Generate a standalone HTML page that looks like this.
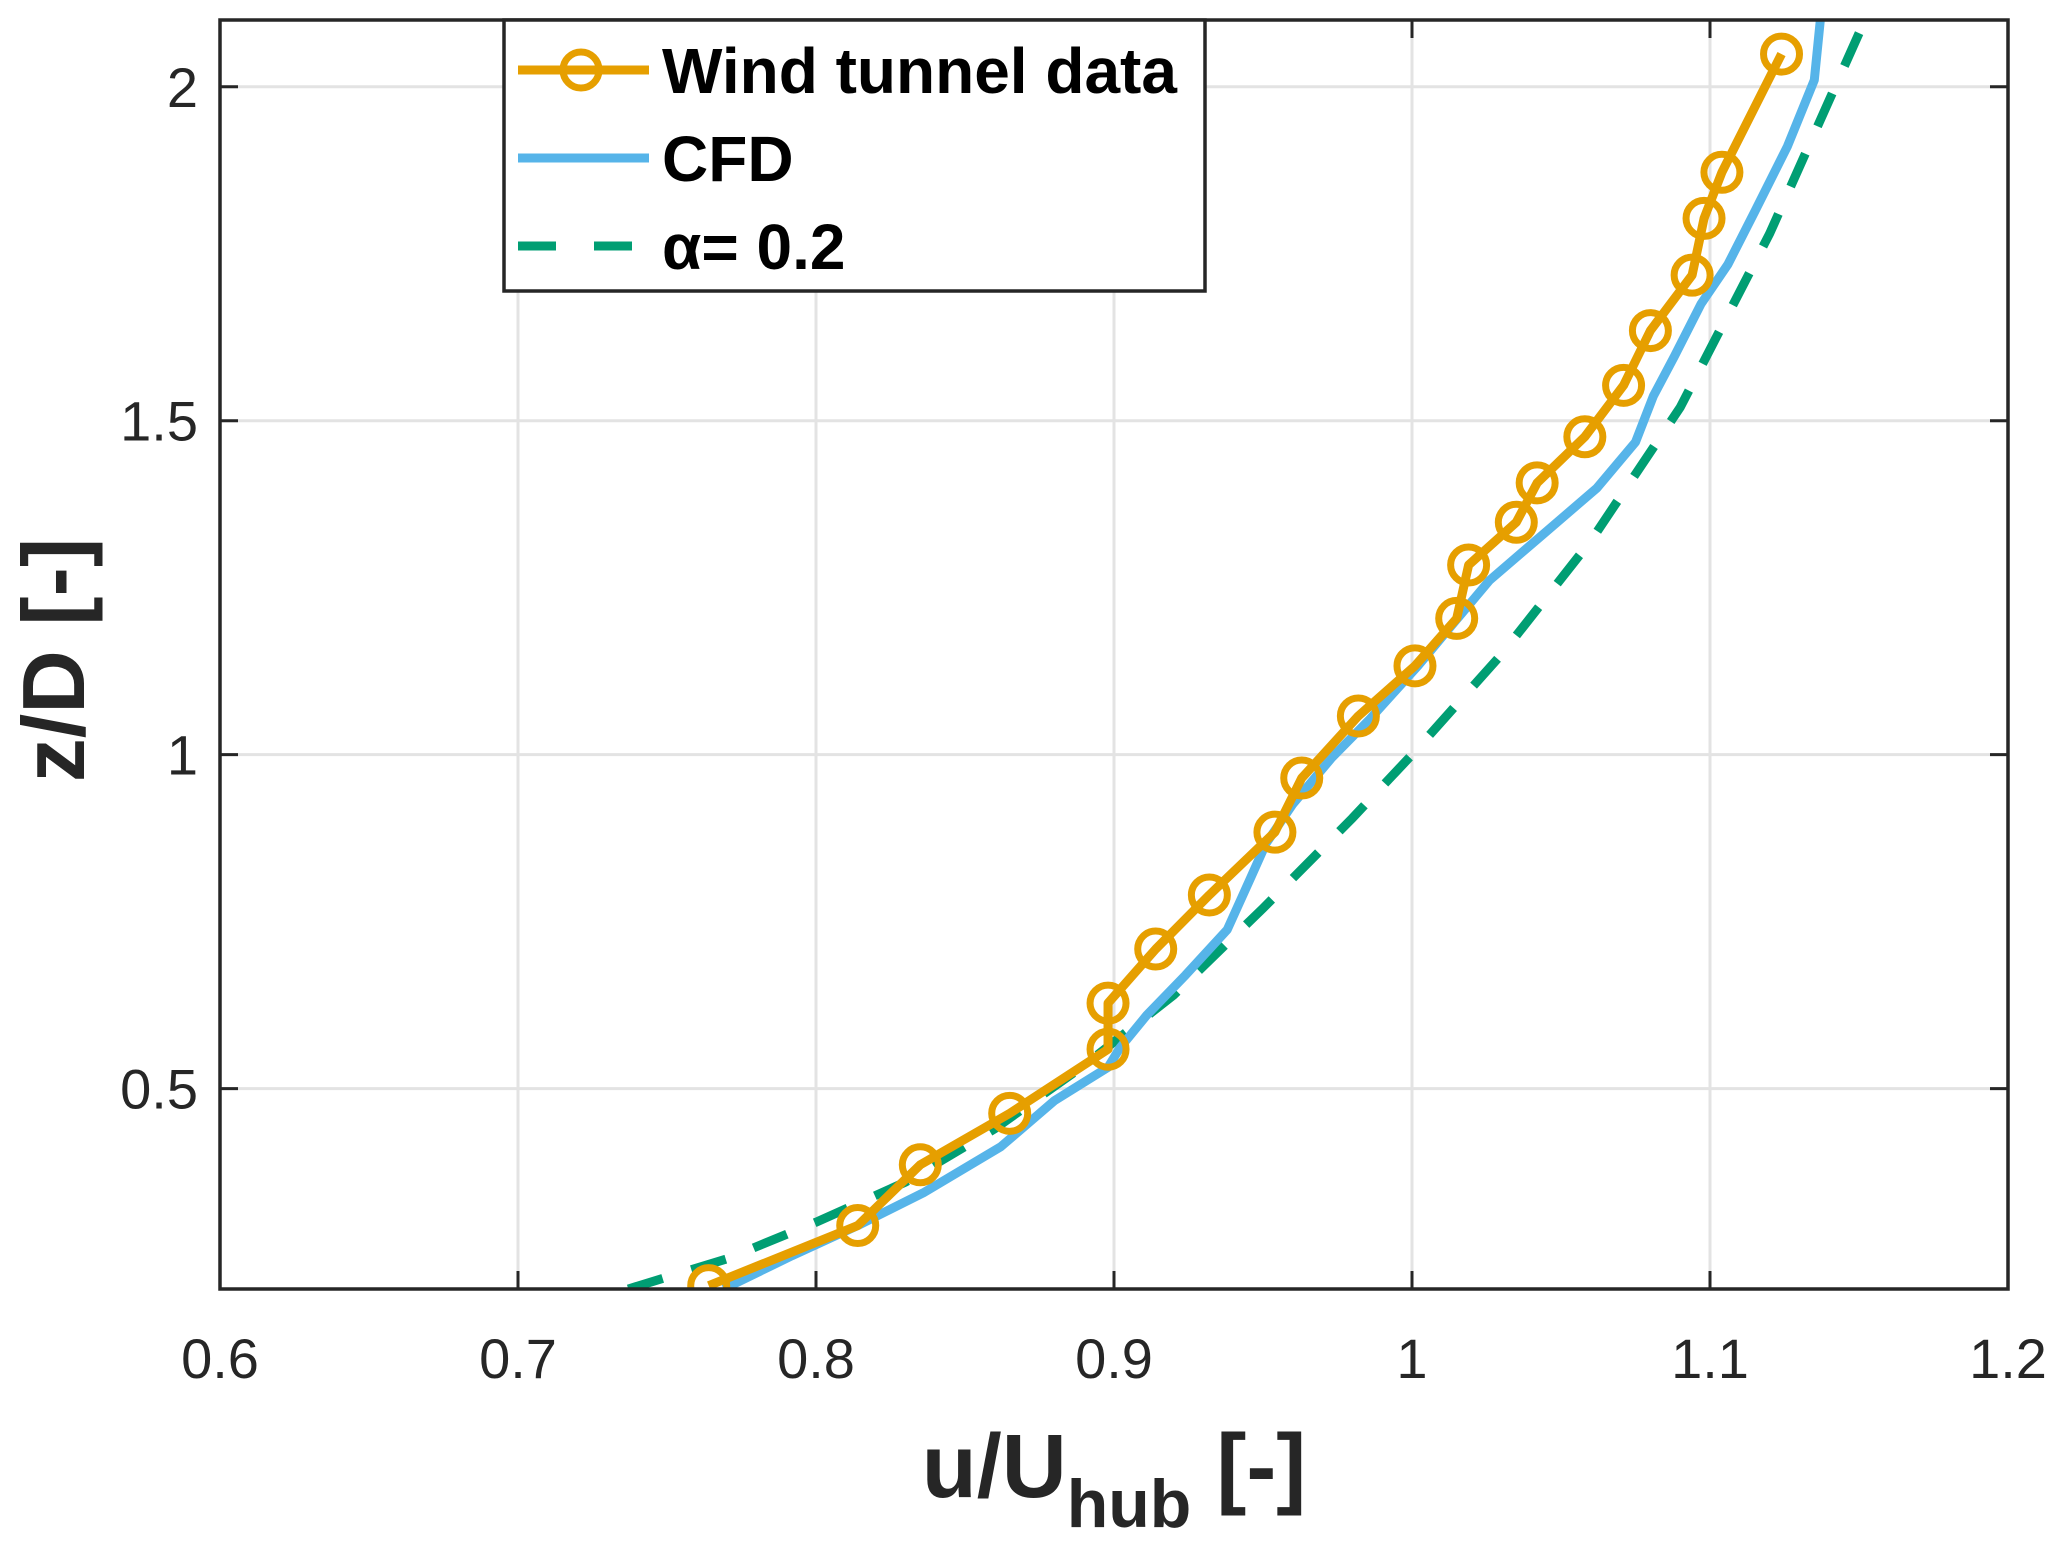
<!DOCTYPE html>
<html><head><meta charset="utf-8"><style>body{margin:0;background:#fff}svg{display:block}</style></head>
<body>
<svg id="chart" width="2067" height="1546" xmlns="http://www.w3.org/2000/svg" font-family="'Liberation Sans', sans-serif">
<rect width="2067" height="1546" fill="#fff"/>
<g id="grid"></g>
<g id="series"></g>
<g id="axes"></g>
<text x="1114" y="1497" text-anchor="middle" font-size="90" font-weight="bold" fill="#262626">u/U<tspan font-size="68" dy="30">hub</tspan><tspan dy="-30"> [-]</tspan></text>
<text transform="translate(84,660) rotate(-90)" text-anchor="middle" font-size="88" font-weight="bold" fill="#262626">z/D [-]</text>
<g>
<rect x="504" y="20" width="701" height="271" fill="#fff" stroke="#262626" stroke-width="3.5"/>
<line x1="518" y1="70" x2="649" y2="70" stroke="#E69F00" stroke-width="9"/>
<circle cx="581" cy="70" r="18" fill="none" stroke="#E69F00" stroke-width="7"/>
<text x="662" y="93" font-size="64" font-weight="bold">Wind tunnel data</text>
<line x1="518" y1="158" x2="649" y2="158" stroke="#56B4E9" stroke-width="9"/>
<text x="662" y="181" font-size="64" font-weight="bold">CFD</text>
<line x1="518" y1="246" x2="649" y2="246" stroke="#009E73" stroke-width="9" stroke-dasharray="38,38"/>
<text x="662" y="269" font-size="64" font-weight="bold">α= 0.2</text>
</g>
</svg>
<script>
const xTicks=[0.6,0.7,0.8,0.9,1,1.1,1.2];
const xTickLabels=["0.6","0.7","0.8","0.9","1","1.1","1.2"];
const yTicks=[0.5,1,1.5,2];
const yTickLabels=["0.5","1","1.5","2"];
const wtU=[0.764,0.814,0.835,0.865,0.898,0.898,0.914,0.932,0.954,0.963,0.982,1.001,1.015,1.019,1.035,1.042,1.058,1.071,1.080,1.094,1.098,1.104,1.124];
const wtZ=[0.205,0.295,0.386,0.463,0.559,0.628,0.709,0.790,0.884,0.965,1.058,1.133,1.204,1.284,1.348,1.407,1.476,1.553,1.635,1.718,1.803,1.872,2.049];
const cfdU=[0.769,0.792,0.814,0.836,0.862,0.880,0.898,0.902,0.911,0.924,0.938,0.946,0.951,0.960,0.973,0.986,1.002,1.013,1.026,1.044,1.062,1.075,1.081,1.088,1.097,1.106,1.115,1.126,1.135,1.137];
const cfdZ=[0.200,0.250,0.295,0.344,0.413,0.482,0.532,0.561,0.610,0.670,0.738,0.817,0.867,0.926,0.995,1.054,1.133,1.192,1.261,1.330,1.399,1.468,1.537,1.596,1.675,1.734,1.813,1.911,2.010,2.099];
const plU=[0.737,0.770,0.800,0.830,0.860,0.890,0.920,0.950,0.980,1.000,1.030,1.060,1.090,1.120,1.152];
const plZ=[0.200,0.245,0.300,0.360,0.440,0.535,0.640,0.770,0.905,1.000,1.150,1.320,1.520,1.780,2.100];
const X0=220,X1=2008,Y0=1289,Y1=20,XMIN=0.6,XMAX=1.2,YMIN=0.2,YMAX=2.1;
const sx=v=>X0+(v-XMIN)/(XMAX-XMIN)*(X1-X0);
const sy=v=>Y0-(v-YMIN)/(YMAX-YMIN)*(Y0-Y1);
const NS="http://www.w3.org/2000/svg";
function mk(tag,attrs,parent){const e=document.createElementNS(NS,tag);for(const k in attrs)e.setAttribute(k,attrs[k]);parent.appendChild(e);return e;}
const grid=document.getElementById('grid'),axes=document.getElementById('axes'),ser=document.getElementById('series');
xTicks.forEach((t,i)=>{
 const g=mk('line',{x1:sx(t),x2:sx(t),y1:Y1,y2:Y0,stroke:'#e3e3e3','stroke-width':3},grid);
 
 
 const tk=mk('line',{x1:sx(t),x2:sx(t),y1:Y0,y2:Y0-18,stroke:'#262626','stroke-width':3},axes);
 
 
 const tk2=mk('line',{x1:sx(t),x2:sx(t),y1:Y1,y2:Y1+18,stroke:'#262626','stroke-width':3},axes);
 
 
 const tx=mk('text',{x:sx(t),y:1378,'text-anchor':'middle','font-size':56,fill:'#262626'},axes);
 tx.textContent=xTickLabels[i];
 
 
});
yTicks.forEach((t,i)=>{
 const g=mk('line',{x1:X0,x2:X1,y1:sy(t),y2:sy(t),stroke:'#e3e3e3','stroke-width':3},grid);
 
 
 const tk=mk('line',{x1:X0,x2:X0+18,y1:sy(t),y2:sy(t),stroke:'#262626','stroke-width':3},axes);
 
 
 const tk2=mk('line',{x1:X1,x2:X1-18,y1:sy(t),y2:sy(t),stroke:'#262626','stroke-width':3},axes);
 
 
 const tx=mk('text',{x:198,y:sy(t)+20,'text-anchor':'end','font-size':56,fill:'#262626'},axes);
 tx.textContent=yTickLabels[i];
 
 
});
const frame=mk('rect',{x:X0,y:Y1,width:X1-X0,height:Y0-Y1,fill:'none',stroke:'#262626','stroke-width':3.5},axes);


const cp=mk('clipPath',{id:'clip'},ser);mk('rect',{x:X0,y:Y1,width:X1-X0,height:Y0-Y1},cp);
const pl=mk('polyline',{points:plU.map((u,i)=>sx(u)+','+sy(plZ[i])).join(' '),fill:'none',stroke:'#009E73','stroke-width':9,'stroke-dasharray':'36,30'},ser);


const cfd=mk('polyline',{points:cfdU.map((u,i)=>sx(u)+','+sy(cfdZ[i])).join(' '),fill:'none',stroke:'#56B4E9','stroke-width':9,'stroke-linejoin':'round'},ser);


const wt=mk('polyline',{points:wtU.map((u,i)=>sx(u)+','+sy(wtZ[i])).join(' '),fill:'none',stroke:'#E69F00','stroke-width':9,'stroke-linejoin':'round'},ser);


wtU.forEach((u,i)=>{
 const c=mk('circle',{cx:sx(u),cy:sy(wtZ[i]),r:18,fill:'none',stroke:'#E69F00','stroke-width':7},ser);
 
 
});
ser.setAttribute('clip-path','url(#clip)');
</script>
</body></html>
